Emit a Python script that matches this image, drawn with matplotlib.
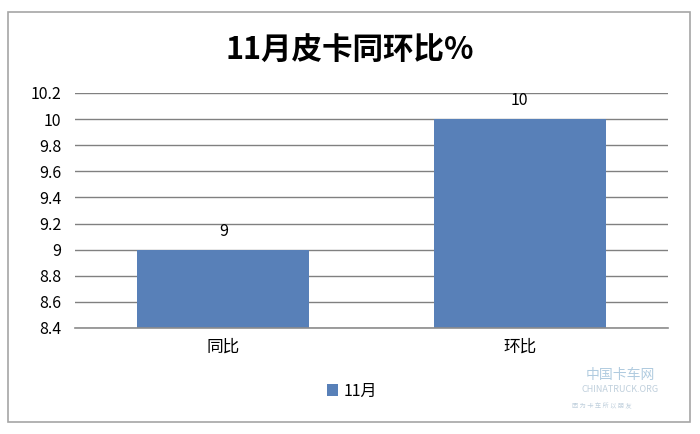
import matplotlib
matplotlib.use("Agg")
import matplotlib.pyplot as plt
from matplotlib.patches import Rectangle

plt.rcParams['font.family'] = ['Noto Sans CJK SC', 'DejaVu Sans']

categories = ['同比', '环比']
values = [9, 10]
series_name = '11月'
title = '11月皮卡同环比%'
yticks = [8.4, 8.6, 8.8, 9.0, 9.2, 9.4, 9.6, 9.8, 10.0, 10.2]
ytick_labels = ['8.4', '8.6', '8.8', '9', '9.2', '9.4', '9.6', '9.8', '10', '10.2']

bar_color = '#5880b8'

fig = plt.figure(figsize=(7, 4.34), dpi=100)
fig.patch.set_facecolor('white')

# outer chart border
fig.patches.append(Rectangle((8/700, 1-422/434), 682/700, 410/434, transform=fig.transFigure,
                             fill=False, edgecolor='#a6a6a6', linewidth=1.2))

ax = fig.add_axes([75/700, 1-328/434, 593/700, 235/434])
x = list(range(len(categories)))
bars = ax.bar(x, values, width=0.58, color=bar_color, zorder=3, label=series_name)
ax.set_xlim(-0.5, 1.5)
ax.set_ylim(8.4, 10.2)
ax.set_yticks(yticks)
ax.set_yticklabels(ytick_labels, fontsize=11.5)
ax.set_xticks(x)
ax.set_xticklabels(categories, fontsize=12)
ax.tick_params(axis='both', length=0, pad=8)
ax.tick_params(axis='y', pad=10)
ax.grid(axis='y', color='#808080', linewidth=1.0, zorder=0)
for s in ['top', 'right', 'left']:
    ax.spines[s].set_visible(False)
ax.spines['bottom'].set_color('#8c8c8c')
ax.spines['bottom'].set_linewidth(1.2)
ax.spines['bottom'].set_zorder(4)

for xi, v in zip(x, values):
    ax.annotate(f'{v:g}', (xi, v), xytext=(0, 7), textcoords='offset points',
                ha='center', va='bottom', fontsize=11.5)

fig.text(0.5, 1-50/434, title, ha='center', va='center', fontsize=22, fontweight='bold')

leg = fig.legend(handles=[bars], labels=[series_name], loc='center',
                 bbox_to_anchor=(352/700, 1-391/434), frameon=False, fontsize=11.5,
                 handlelength=0.7, handleheight=0.7, handletextpad=0.3)

# watermark
fig.text(620/700, 1-375/434, '中国卡车网', ha='center', va='center', fontsize=10,
         color='#9dbfd8', alpha=0.8)
fig.text(620/700, 1-390/434, 'CHINATRUCK.ORG', ha='center', va='center', fontsize=6.5,
         color='#b0c4d4', alpha=0.8)
fig.text(602/700, 1-406/434, '因 为 卡 车 所 以 朋 友', ha='center', va='center', fontsize=4.5,
         color='#b0c4d4', alpha=0.8)

fig.savefig('out.png', dpi=100)
